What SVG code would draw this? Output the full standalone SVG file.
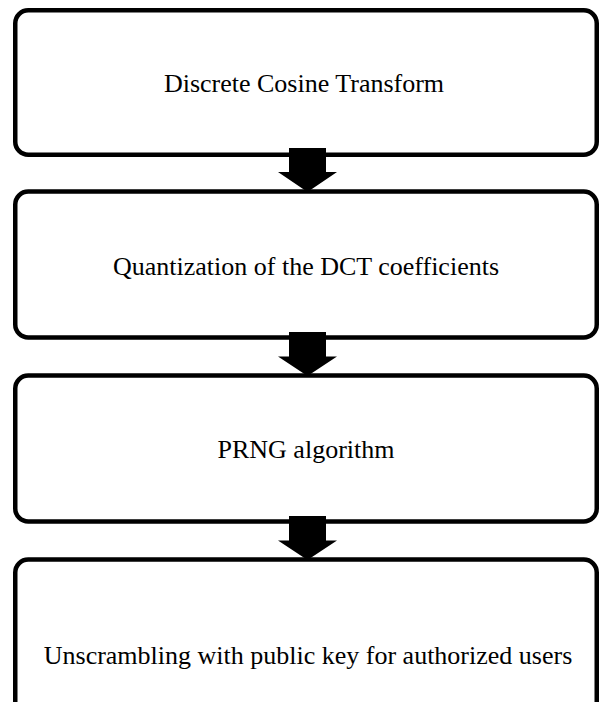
<svg xmlns="http://www.w3.org/2000/svg" width="600" height="702" viewBox="0 0 600 702">
<style>
.box{fill:#fff;stroke:#000;stroke-width:4.5}
.lbl{font-size:26px;fill:#000;text-anchor:middle}
.arr{fill:#000}
</style>
<rect width="600" height="702" fill="#fff"/>
<g id="n1"><rect class="box" x="15.25" y="10.25" width="581.5" height="144.5" rx="13"/><text class="lbl" font-family="'Liberation Serif', 'DejaVu Serif', serif" x="304" y="92">Discrete Cosine Transform</text></g>
<g id="n2"><rect class="box" x="15.25" y="191.5" width="581.5" height="146" rx="13"/><text class="lbl" font-family="'Liberation Serif', 'DejaVu Serif', serif" x="306" y="275">Quantization of the DCT coefficients</text></g>
<g id="n3"><rect class="box" x="15.25" y="375.5" width="581.5" height="146" rx="13"/><text class="lbl" font-family="'Liberation Serif', 'DejaVu Serif', serif" x="306" y="458">PRNG algorithm</text></g>
<g id="n4"><rect class="box" x="15.25" y="559.5" width="581.5" height="180" rx="13"/><text class="lbl" font-family="'Liberation Serif', 'DejaVu Serif', serif" x="308" y="664">Unscrambling with public key for authorized users</text></g>
<g id="connectors">
<polygon class="arr" points="289,148 326,148 326,172 337,172 307.5,192 278,172 289,172"/>
<polygon class="arr" points="289,332 326,332 326,356.5 337,356.5 307.5,376 278,356.5 289,356.5"/>
<polygon class="arr" points="289,516 326,516 326,540.5 337,540.5 307.5,560 278,540.5 289,540.5"/>
</g>
</svg>
